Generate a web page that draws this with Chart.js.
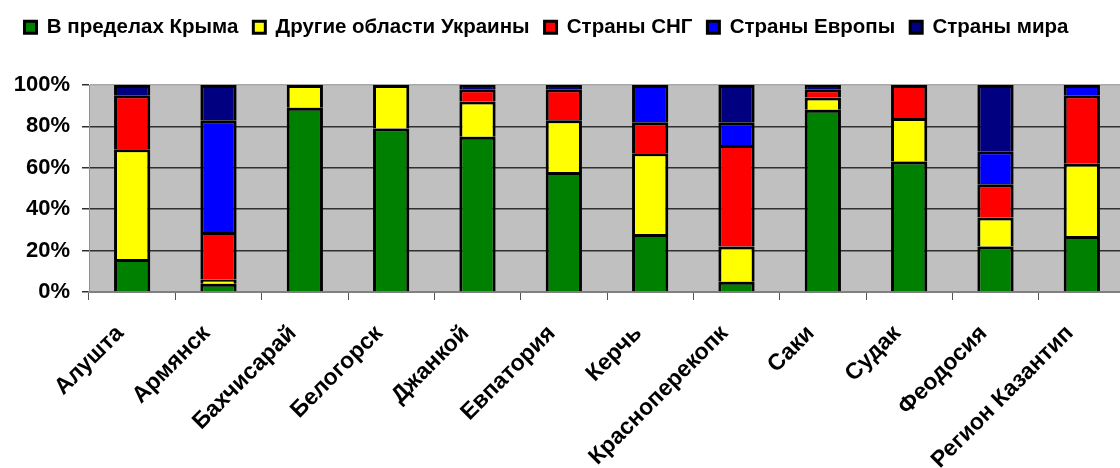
<!DOCTYPE html>
<html>
<head>
<meta charset="utf-8">
<script src="https://cdn.jsdelivr.net/npm/chart.js@4/dist/chart.umd.min.js"></script>
<style>
  html, body { margin: 0; padding: 0; background: #ffffff; overflow: hidden; width: 1120px; height: 468px; }
  canvas { display: block; }
</style>
</head>
<body>
<canvas id="c" width="1125" height="468"></canvas>
<script>
const categories = ['Алушта','Армянск','Бахчисарай','Белогорск','Джанкой','Евпатория','Керчь','Красноперекопк','Саки','Судак','Феодосия','Регион Казантип'];
const seriesNames = ['В пределах Крыма','Другие области Украины','Страны СНГ','Страны Европы','Страны мира'];
const crimea  = [16, 4, 89, 79, 75, 58, 28,  5, 88, 63, 22, 27];
const ukraine = [53, 2, 11, 21, 17, 25, 39, 17,  6, 21, 14, 35];
const cis     = [26,23,  0,  0,  6, 15, 15, 49,  4, 16, 16, 33];
const europe  = [ 0,54,  0,  0,  0,  0, 18, 11,  0,  0, 16,  5];
const world   = [ 5,17,  0,  0,  2,  2,  0, 18,  2,  0, 32,  0];
const yTicks  = [0, 20, 40, 60, 80, 100];
const colors  = ['#008000','#FFFF00','#FF0000','#0000FF','#000080'];

const FONT = "'Liberation Sans', Arial, sans-serif";
const seriesValues = [crimea, ukraine, cis, europe, world];

const bgPlugin = {
  id: 'plotBg',
  beforeDraw(chart) {
    const a = chart.chartArea, ctx = chart.ctx;
    ctx.save();
    ctx.fillStyle = '#C0C0C0';
    ctx.fillRect(a.left, a.top, a.right - a.left, a.bottom - a.top);
    ctx.restore();
  }
};
const legendFix = {
  id: 'legendFix',
  beforeInit(chart) {
    const lg = chart.legend;
    if (lg) {
      const fit = lg.fit;
      lg.fit = function() { fit.call(this); this.height = 83; };
    }
  },
  afterUpdate(chart) {
    const lg = chart.legend;
    if (lg) { lg.left -= 16; lg.right -= 16; }
  }
};

new Chart(document.getElementById('c'), {
  type: 'bar',
  data: {
    labels: categories,
    datasets: seriesValues.map((vals, i) => ({
      label: seriesNames[i],
      data: vals,
      backgroundColor: colors[i],
      borderColor: '#000000',
      borderWidth: 3,
      borderSkipped: 'start',
      barPercentage: 0.42,
      categoryPercentage: 1.0
    }))
  },
  options: {
    responsive: false,
    animation: false,
    devicePixelRatio: 1,
    layout: { padding: { top: 2, left: 0, right: 0, bottom: 0 } },
    plugins: {
      legend: {
        position: 'top',
        labels: {
          font: { family: FONT, size: 20.5, weight: 'bold' },
          color: '#000000',
          boxWidth: 12,
          boxHeight: 12,
          padding: 15
        }
      },
      tooltip: { enabled: false }
    },
    scales: {
      x: {
        stacked: true,
        afterFit(scale) { scale.height = 176; },
        grid: { offset: true, drawOnChartArea: false, drawTicks: true, tickLength: 8, tickColor: '#555555', color: '#555555' },
        border: { display: true, color: '#808080', width: 2 },
        ticks: {
          font: { family: FONT, size: 23, weight: 'bold' },
          color: '#000000',
          minRotation: 45,
          maxRotation: 45,
          autoSkip: false,
          padding: 20,
          labelOffset: -12
        }
      },
      y: {
        stacked: true,
        min: 0,
        max: 100,
        afterFit(scale) { scale.width = 89; },
        afterBuildTicks(scale) { scale.ticks = yTicks.map(v => ({ value: v })); },
        grid: {
          color: (ctx) => ctx.tick && ctx.tick.value === 100 ? '#A8A8A8' : (ctx.tick && ctx.tick.value === 0 ? '#808080' : '#303030'),
          lineWidth: 1.5,
          tickLength: 7,
          tickColor: '#303030'
        },
        border: { display: true, color: '#909090', width: 1 },
        ticks: {
          font: { family: FONT, size: 22, weight: 'bold' },
          color: '#000000',
          padding: 12,
          callback: (v) => v + '%'
        }
      }
    }
  },
  plugins: [bgPlugin, legendFix]
});
</script>
</body>
</html>
